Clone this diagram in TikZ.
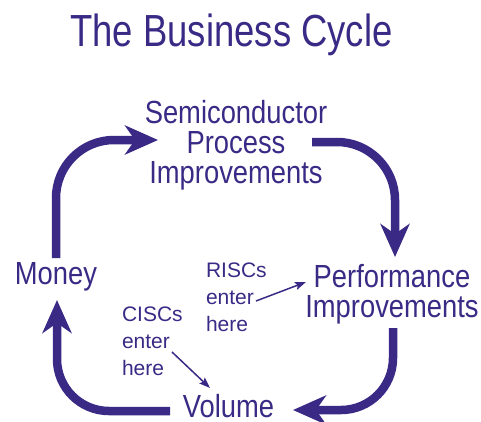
\documentclass[tikz,border=0pt]{standalone}
\usepackage{fontspec}
\setmainfont{Liberation Sans}
\newfontfamily\titlefont[FakeStretch=0.81]{Liberation Sans}
\newfontfamily\labelfont[FakeStretch=0.855]{Liberation Sans}
\usetikzlibrary{arrows.meta}
\definecolor{cycleblue}{RGB}{58,42,134}
\begin{document}
\begin{tikzpicture}[x=1pt,y=-1pt,
  every node/.style={text=cycleblue, inner sep=0pt, outer sep=0pt},
  title/.style={font=\titlefont\fontsize{45}{54}\selectfont, anchor=base},
  stage/.style={font=\labelfont\fontsize{32}{30}\selectfont, align=center, anchor=base},
  entry/.style={font=\fontsize{21}{27}\selectfont, align=left, anchor=base west},
  flow/.style={draw=cycleblue, line width=8.5pt, rounded corners=58pt,
    -{Stealth[length=33pt, width=29pt, inset=10pt]}},
  pointer/.style={draw=cycleblue, line width=1.5pt,
    -{Stealth[length=11pt, width=8pt, inset=2pt]}}]
  \useasboundingbox (0,0) rectangle (481,421);

  % title
  \node[title] (title) at (231.5,46) {The Business Cycle};

  % the four stages of the cycle (anchored at the baseline of the last line)
  \node[stage] (semi) at (236,183) {Semiconductor\\Process\\Improvements};
  \node[stage] (perf) at (392,317) {Performance\\Improvements};
  \node[stage] (volume) at (228.5,417) {Volume};
  \node[stage] (money) at (56,284) {Money};

  % entry points
  \node[entry] (risc) at (206,331) {RISCs\\enter\\here};
  \node[entry] (cisc) at (122,375) {CISCs\\enter\\here};

  % ends of the cycle arrows
  \coordinate (money-out) at (56,258);
  \coordinate (semi-in) at (158,140);
  \coordinate (semi-out) at (312,142);
  \coordinate (perf-in) at (395,257);
  \coordinate (perf-out) at (393,328);
  \coordinate (volume-in) at (293,410);
  \coordinate (volume-out) at (170,411);
  \coordinate (money-in) at (57,300);

  \draw[flow] (money-out) |- (semi-in);
  \draw[flow] (semi-out) -| (perf-in);
  \draw[flow, rounded corners=52pt] (perf-out) |- (volume-in);
  \draw[flow, rounded corners=52pt] (volume-out) -| (money-in);

  % entry pointers
  \coordinate (risc-tail) at (256,301);
  \coordinate (risc-head) at (306,282);
  \coordinate (cisc-tail) at (172,352);
  \coordinate (cisc-head) at (210,388);
  \draw[pointer] (risc-tail) -- (risc-head);
  \draw[pointer] (cisc-tail) -- (cisc-head);
\end{tikzpicture}
\end{document}
